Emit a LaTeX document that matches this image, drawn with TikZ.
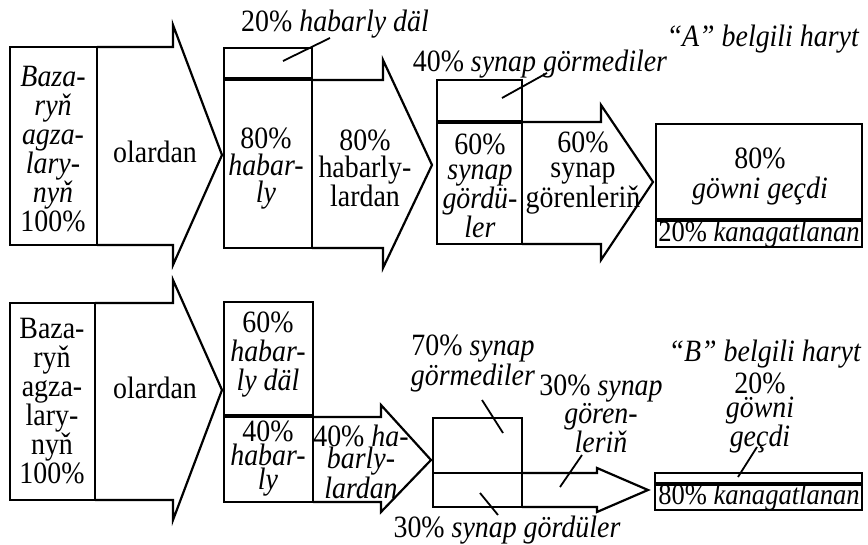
\documentclass[tikz,border=0pt]{standalone}
\usepackage{fontspec}
\setmainfont{Liberation Serif}[FakeStretch=0.9]
\begin{document}
\begin{tikzpicture}[x=1pt,y=-1pt,
  ln/.style={line width=2.2pt, line join=miter},
  dv/.style={line width=4pt},
  ldr/.style={line width=1.8pt},
  lbl/.style={inner sep=0pt, align=center, font=\fontsize{31}{31}\selectfont},
  small/.style={inner sep=0pt, align=center, font=\fontsize{29.5}{29.5}\selectfont}]
\useasboundingbox (0,0) rectangle (868,545);
% ---------- top row ----------
\draw[ln] (10,47) rectangle (97,245);
\draw[ln] (97,47) -- (173,47) -- (173,25) -- (222,155) -- (173,265) -- (173,245) -- (97,245);
\draw[ln] (224,48) rectangle (312,248);
\draw[dv] (224,79) -- (312,79);
\draw[ln] (312,80) -- (383,80) -- (383,60) -- (432,165) -- (383,268) -- (383,248) -- (312,248);
\draw[ln] (437,80) rectangle (522,244);
\draw[dv] (437,122) -- (522,122);
\draw[ln] (522,122) -- (601,122) -- (601,105) -- (653,182) -- (601,260) -- (601,244) -- (522,244);
\draw[ln] (656,124) rectangle (862,247);
\draw[dv] (656,220) -- (862,220);
% ---------- bottom row ----------
\draw[ln] (10,303) rectangle (95,500);
\draw[ln] (95,303) -- (173,303) -- (173,280) -- (222,390) -- (173,520) -- (173,500) -- (95,500);
\draw[ln] (224,302) rectangle (313,502);
\draw[dv] (224,416) -- (313,416);
\draw[ln] (313,417) -- (381,417) -- (381,405) -- (431,460) -- (381,512) -- (381,502) -- (313,502);
\draw[ln] (433,418) rectangle (522,507);
\draw[ln] (433,473) -- (522,473);
\draw[ln] (522,473) -- (597,473) -- (597,468) -- (648,490) -- (597,512) -- (597,507) -- (522,507);
\draw[ln] (655,473) rectangle (862,510);
\draw[dv] (655,484) -- (862,484);
% ---------- texts top ----------
\node[lbl, font=\fontsize{31}{29}\selectfont] (t1) at (53,149) {\textit{Baza-}\\\textit{ryň}\\\textit{agza-}\\\textit{lary-}\\\textit{nyň}\\100\%};
\node[lbl] (t2) at (155,152) {olardan};
\node[lbl, anchor=base] (t3) at (335,32) {20\% \textit{habarly däl}};
\node[lbl, font=\fontsize{31}{27}\selectfont] (t4) at (266,169) {80\%\\\textit{habar-}\\\textit{ly}};
\node[lbl, font=\fontsize{31}{27}\selectfont] (t5) at (365,168) {80\%\\habarly-\\lardan};
\node[lbl, anchor=base] (t6) at (540,72) {40\% \textit{synap görmediler}};
\node[lbl, font=\fontsize{31}{25}\selectfont] (t7) at (480,186) {60\%\\\textit{synap}\\\textit{gördü-}\\\textit{ler}};
\node[lbl, font=\fontsize{31}{25}\selectfont] (t8) at (583,173) {60\%\\synap\\görenleriň};
\node[lbl, font=\fontsize{31}{30}\selectfont] (t9) at (760,176) {80\%\\\textit{göwni geçdi}};
\node[small] (t10) at (759,234) {20\% \textit{kanagatlanan}};
\node[lbl, anchor=base] (t11) at (763,47) {\textit{“A” belgili haryt}};
% ---------- texts bottom ----------
\node[lbl, font=\fontsize{31}{29}\selectfont] (b1) at (52,401) {Baza-\\ryň\\agza-\\lary-\\nyň\\100\%};
\node[lbl] (b2) at (155,388) {olardan};
\node[lbl, font=\fontsize{31}{29}\selectfont] (b3) at (268,355) {60\%\\\textit{habar-}\\\textit{ly däl}};
\node[lbl, font=\fontsize{31}{24}\selectfont] (b4) at (268,459) {40\%\\\textit{habar-}\\\textit{ly}};
\node[lbl, font=\fontsize{31}{22}\selectfont] (b5) at (361,462) {40\% \textit{ha-}\\\textit{barly-}\\\textit{lardan}};
\node[lbl, font=\fontsize{31}{30}\selectfont] (b6) at (473,363) {70\% \textit{synap}\\\textit{görmediler}};
\node[lbl, font=\fontsize{31}{23}\selectfont] (b7) at (601,414) {30\% \textit{synap}\\\textit{gören-}\\\textit{leriň}};
\node[lbl, anchor=base] (b8) at (507,537) {30\% \textit{synap gördüler}};
\node[lbl, anchor=base] (b9) at (765,362) {\textit{“B” belgili haryt}};
\node[lbl, font=\fontsize{31}{24}\selectfont] (b10) at (760,413) {20\%\\\textit{göwni}\\\textit{geçdi}};
\node[small] (b11) at (759,497) {80\% \textit{kanagatlanan}};
% ---------- leader lines ----------
\coordinate (l1a) at (283,61); \coordinate (l1b) at (330,38);
\coordinate (l2a) at (502,98); \coordinate (l2b) at (547,73);
\coordinate (l3a) at (482,400); \coordinate (l3b) at (503,433);
\coordinate (l4a) at (560,487); \coordinate (l4b) at (582,455);
\coordinate (l5a) at (480,493); \coordinate (l5b) at (498,515);
\coordinate (l6a) at (738,477); \coordinate (l6b) at (757,447);
\draw[ldr] (l1a) -- (l1b);
\draw[ldr] (l2a) -- (l2b);
\draw[ldr] (l3a) -- (l3b);
\draw[ldr] (l4a) -- (l4b);
\draw[ldr] (l5a) -- (l5b);
\draw[ldr] (l6a) -- (l6b);
\end{tikzpicture}
\end{document}
